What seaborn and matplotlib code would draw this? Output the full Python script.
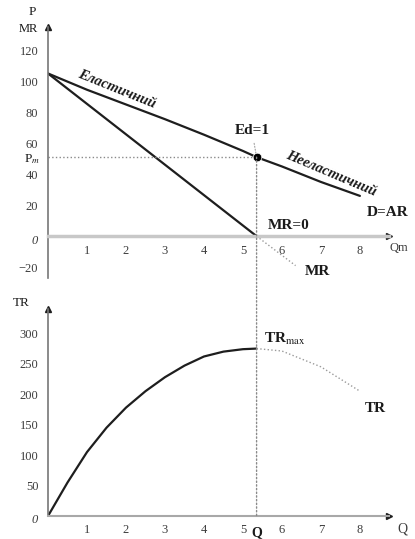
import matplotlib
matplotlib.use('Agg')
import matplotlib.pyplot as plt
import seaborn as sns
from matplotlib.patches import ConnectionPatch

# demand (D=AR), marginal revenue and total revenue
q_demand = [0, 1, 2, 3, 4, 5, 5.35, 6, 7, 8]
p_demand = [105, 94.5, 85, 75.5, 65.5, 55, 51, 45, 35, 26]
q_mr = [0, 5.35]
mr = [105, 0]
q_mr_ext = [5.35, 6.35]
mr_ext = [0, -19]
q_tr = [0, 0.5, 1, 1.5, 2, 2.5, 3, 3.5, 4, 4.5, 5, 5.35]
tr = [0, 55, 105, 145, 178, 205, 228, 247, 262, 270, 274, 275]
q_tr_ext = [5.35, 6, 7, 8]
tr_ext = [275, 271, 245, 205]
q_m = 5.35
p_m = 51
x_ticks = [1, 2, 3, 4, 5, 6, 7, 8]
p_ticks = [-20, 20, 40, 60, 80, 100, 120]
tr_ticks = [50, 100, 150, 200, 250, 300]

sns.set_style('white')
plt.rcParams['font.family'] = ['Liberation Serif', 'DejaVu Serif']
plt.rcParams['mathtext.fontset'] = 'stix'

LINE = '#1e1e1e'
GRID = '#8a8a8a'
TXT = '#1a1a1a'
TICK = '#3c3c3c'

fig = plt.figure(figsize=(4.15, 5.39), dpi=100)
ax1 = fig.add_axes([0.1157, 0.4842, 0.822, 0.4657])
ax2 = fig.add_axes([0.1157, 0.0427, 0.822, 0.384])


def style_axes(ax, yticks, xaxis_color, xaxis_lw):
    ax.set_xlim(0, 8.75)
    for s in ['top', 'right']:
        ax.spines[s].set_visible(False)
    ax.spines['left'].set_color('#777777')
    ax.spines['left'].set_linewidth(1.2)
    ax.spines['bottom'].set_position(('data', 0))
    ax.spines['bottom'].set_color(xaxis_color)
    ax.spines['bottom'].set_linewidth(xaxis_lw)
    ax.set_xticks(x_ticks)
    ax.set_yticks(yticks)
    ax.tick_params(axis='both', direction='inout', length=4, width=0.8,
                   color='#b0b0b0', labelcolor=TICK, labelsize=9)
    ax.tick_params(axis='x', pad=4)
    ax.tick_params(axis='y', pad=5)
    ax.set_xlabel('')
    ax.set_ylabel('')
    # arrow heads on both axes
    ax.plot(1, 0, '>', color=LINE, ms=4, transform=ax.get_yaxis_transform(), clip_on=False)
    ax.plot(0, 1, '^', color=LINE, ms=4, transform=ax.get_xaxis_transform(), clip_on=False)


# --- top panel: price / MR
sns.lineplot(x=q_demand, y=p_demand, ax=ax1, color=LINE, linewidth=1.6)
sns.lineplot(x=q_mr, y=mr, ax=ax1, color=LINE, linewidth=1.6)
sns.lineplot(x=q_mr_ext, y=mr_ext, ax=ax1, color='#9a9a9a', linewidth=1.0, linestyle=':')
ax1.plot([0, q_m], [p_m, p_m], linestyle=':', color=GRID, linewidth=1.0)
sns.scatterplot(x=[q_m], y=[p_m], ax=ax1, color='black', s=38, marker='o', zorder=5)
ax1.set_ylim(-27, 135)
style_axes(ax1, p_ticks, '#c8c8c8', 2.5)

ax1.text(-0.4, 145, 'P', ha='center', va='center', fontsize=9.5, color=TXT)
ax1.text(-0.5, 134, 'MR', ha='center', va='center', fontsize=9, color=TXT)
ax1.text(-0.42, p_m - 1.5, r'P$_m$', ha='center', va='center', fontsize=9.5, color=TXT)
ax1.text(-0.35, -3, '0', ha='center', va='center', fontsize=9, style='italic', color=TICK)
ax1.text(9.0, -7.5, 'Qm', ha='center', va='center', fontsize=9, color=TICK)

ax1.text(1.75, 95, 'Еластичний', rotation=-22, ha='center', va='center',
         fontsize=10.5, fontweight='bold', style='italic', color=TXT)
ax1.text(7.25, 40.5, 'Нееластичний', rotation=-23, ha='center', va='center',
         fontsize=10.5, fontweight='bold', style='italic', color=TXT)
ax1.annotate('Ed=1', xy=(q_m, p_m), xytext=(5.23, 68), ha='center', va='center',
             fontsize=11, fontweight='bold', color=TXT,
             arrowprops=dict(arrowstyle='-', color='#a0a0a0', lw=0.8, linestyle=':', shrinkB=3))
ax1.text(8.7, 15.5, 'D=AR', ha='center', va='center', fontsize=11, fontweight='bold', color=TXT)
ax1.text(6.18, 7, 'MR=0', ha='center', va='center', fontsize=11, fontweight='bold', color=TXT)
ax1.text(6.9, -23, 'MR', ha='center', va='center', fontsize=11, fontweight='bold', color=TXT)

# --- bottom panel: total revenue
sns.lineplot(x=q_tr, y=tr, ax=ax2, color=LINE, linewidth=1.6)
sns.lineplot(x=q_tr_ext, y=tr_ext, ax=ax2, color='#9a9a9a', linewidth=1.0, linestyle=':')
ax2.set_ylim(0, 340)
style_axes(ax2, tr_ticks, '#a8a8a8', 1.5)

ax2.text(-0.7, 350, 'TR', ha='center', va='center', fontsize=9.5, color=TXT)
ax2.text(-0.35, -6, '0', ha='center', va='center', fontsize=9, style='italic', color=TICK)
ax2.text(9.1, -22, 'Q', ha='center', va='center', fontsize=10, color=TICK)
ax2.text(5.55, 290, r'TR$_{\mathrm{max}}$', ha='left', va='center', fontsize=11,
         fontweight='bold', color=TXT)
ax2.text(8.4, 177, 'TR', ha='center', va='center', fontsize=11, fontweight='bold', color=TXT)
ax2.text(q_m, -27, 'Q', ha='center', va='center', fontsize=10, fontweight='bold', color=TXT)

# dotted drop line from the unit-elastic point down to the Q axis
con = ConnectionPatch(xyA=(q_m, p_m), coordsA=ax1.transData,
                      xyB=(q_m, 0), coordsB=ax2.transData,
                      linestyle=':', color=GRID, linewidth=1.0)
fig.add_artist(con)

plt.savefig('out.png', dpi=100)
plt.close()
